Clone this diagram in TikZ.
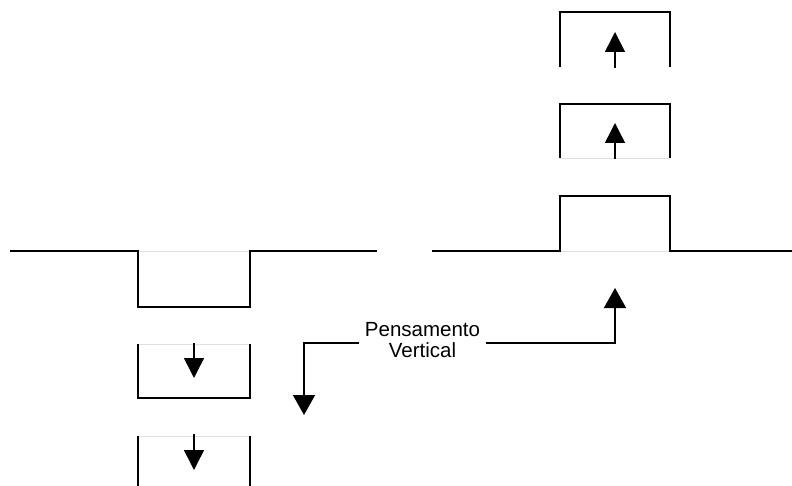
\documentclass[tikz,border=0pt]{standalone}
\usepackage{fontspec}
\setmainfont{Liberation Sans}
\usepackage{tikz}
\usetikzlibrary{arrows.meta}
\tikzset{
  wall/.style={line width=1.5bp, black},
  open/.style={line width=0.8bp, black!12},
  push/.style={line width=1.5bp, -{Triangle[width=20bp,length=20bp]}},
  lead/.style={line width=1.5bp, -{Triangle[width=22bp,length=20bp]}}
}

\begin{document}
\begin{tikzpicture}[x=1bp,y=-1bp]
            \useasboundingbox (0,0) rectangle (792,486);

            % Left side: ground with a pit
            \draw[open] (138,251) -- (250,251);
            \draw[wall] (10,251) -- (138,251) -- (138,307) -- (250,307) -- (250,251) -- (377,251);

            % Pits going down
            \draw[open] (138,344) -- (250,344);
            \draw[wall] (138,344) -- (138,398) -- (250,398) -- (250,344);
            \draw[push] (194,343) -- (194,378);

            \draw[open] (138,436) -- (250,436);
            \draw[wall] (138,436) -- (138,486);
            \draw[wall] (250,436) -- (250,486);
            \draw[push] (194,434) -- (194,470);

            % Right side: ground with a block
            \draw[open] (560,251) -- (670,251);
            \draw[wall] (432,251) -- (560,251) -- (560,196) -- (670,196) -- (670,251) -- (792,251);

            % Blocks going up
            \draw[open] (560,158) -- (670,158);
            \draw[wall] (560,158) -- (560,104) -- (670,104) -- (670,158);
            \draw[push] (615,159) -- (615,123);

            \draw[wall] (560,67) -- (560,12) -- (670,12) -- (670,67);
            \draw[push] (615,68) -- (615,32);

            % Label and its two leads
            \node[inner sep=5.5bp, align=center, font=\fontsize{20.5bp}{21bp}\selectfont] (vert) at (422.5,340) {Pensamento\\Vertical};
            \coordinate (down) at (304,415);
            \coordinate (up) at (615,288);
            \draw[lead] ([yshift=-3bp]vert.west) -| (down);
            \draw[lead] ([yshift=-3bp]vert.east) -| (up);
        \end{tikzpicture}
\end{document}
